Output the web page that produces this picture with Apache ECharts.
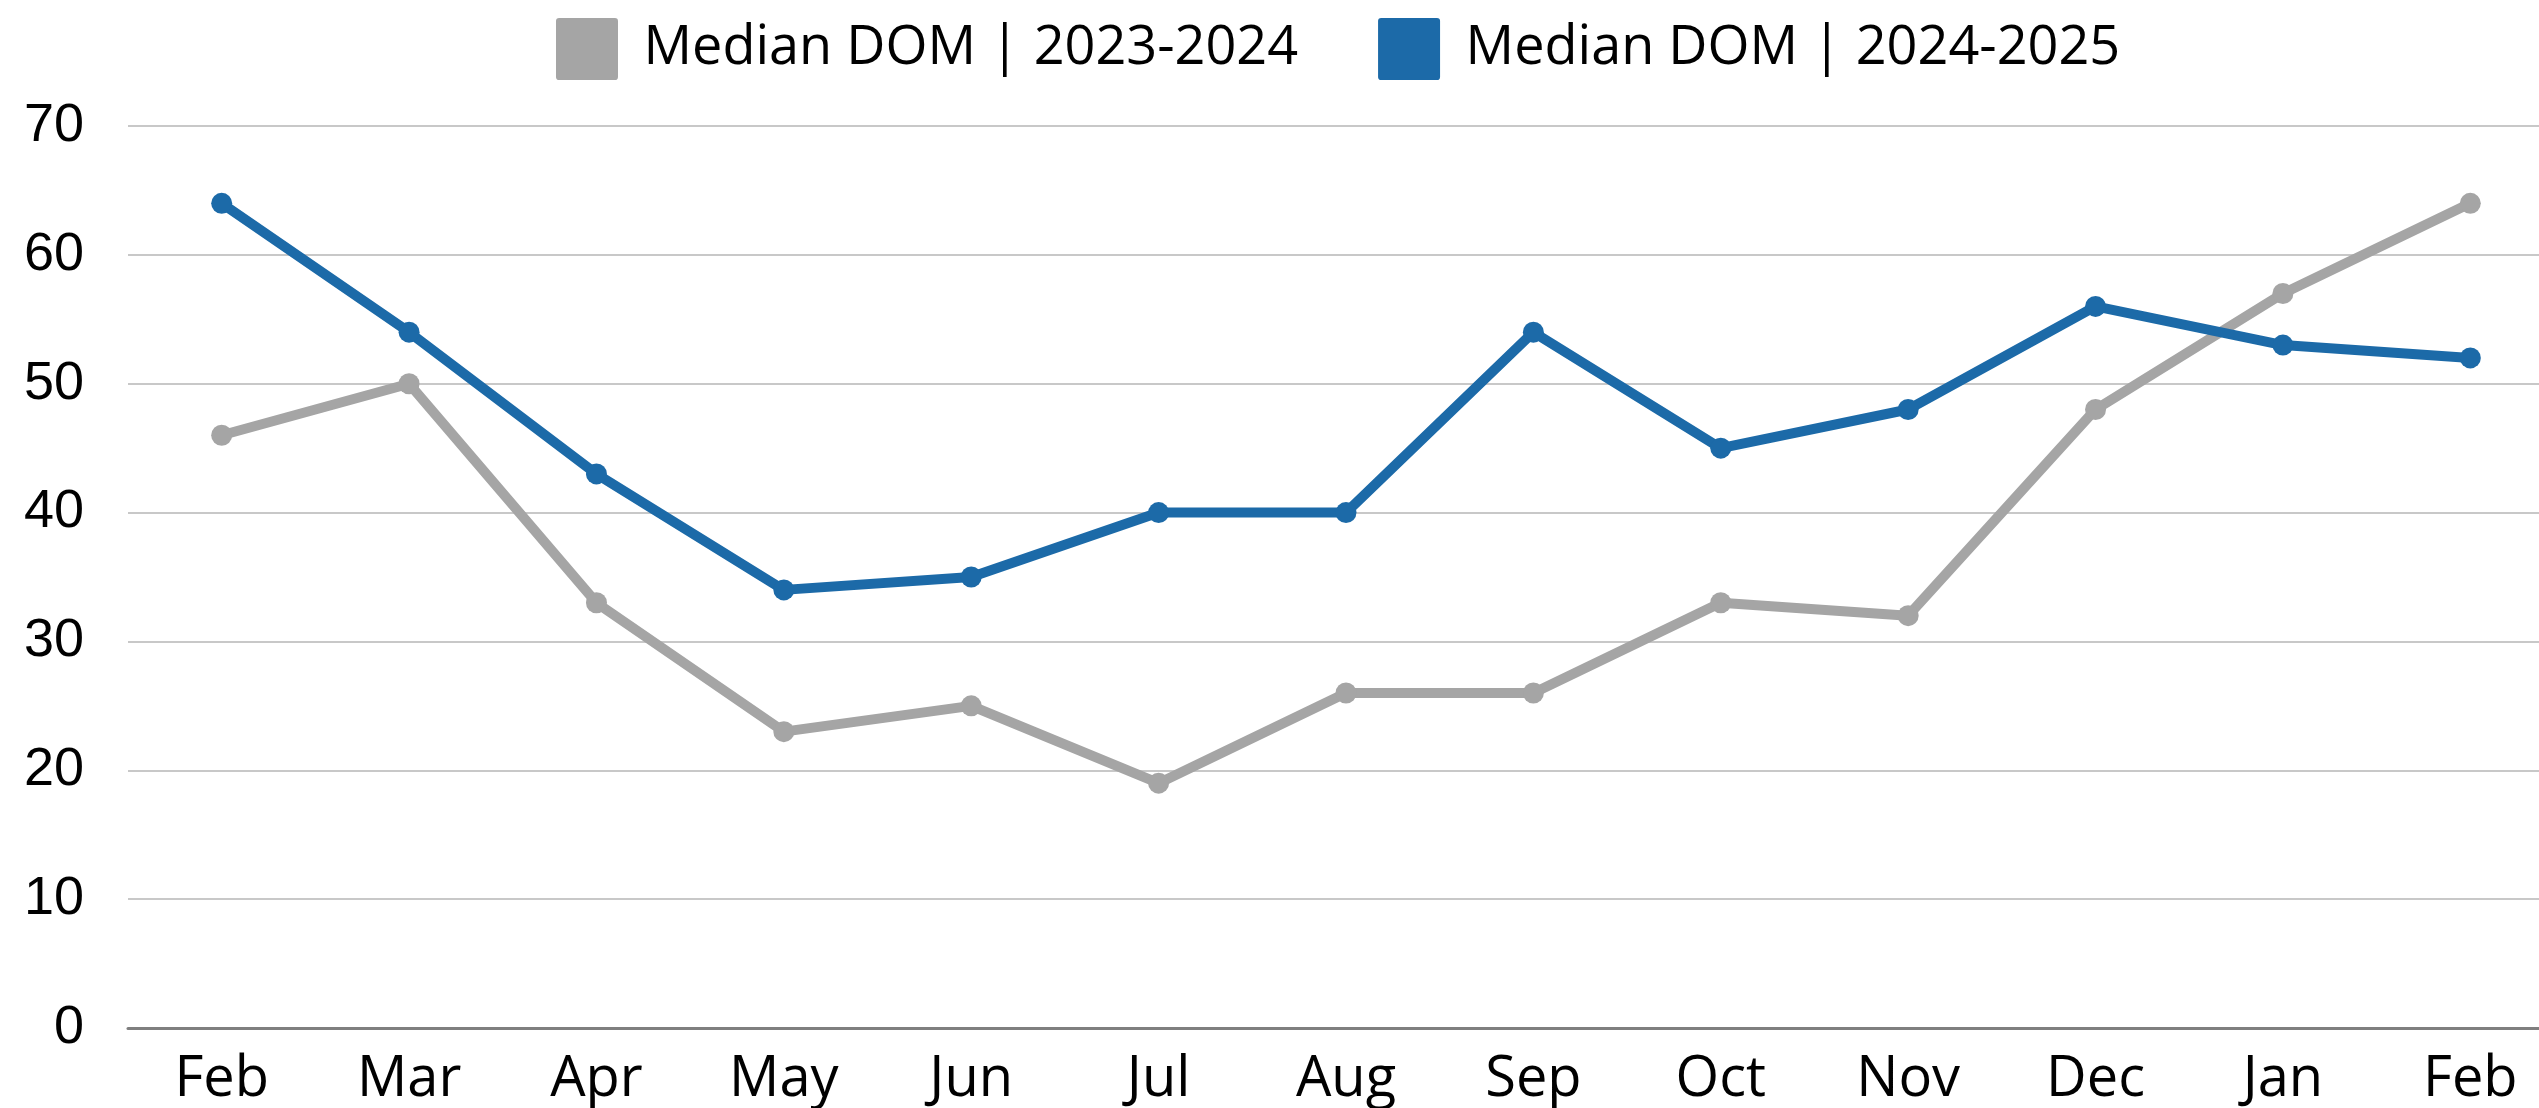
<!DOCTYPE html>
<html>
<head>
<meta charset="utf-8">
<script src="https://cdn.jsdelivr.net/npm/echarts@6/dist/echarts.min.js"></script>
<style>
  html, body { margin: 0; padding: 0; background: #fff; }
  #main { width: 2539px; height: 1108px; }
</style>
</head>
<body>
<div id="main"></div>
<script>
// month labels along the bottom
const months = ['Feb', 'Mar', 'Apr', 'May', 'Jun', 'Jul', 'Aug', 'Sep', 'Oct', 'Nov', 'Dec', 'Jan', 'Feb'];

// median days on market
const dom2324 = [46, 50, 33, 23, 25, 19, 26, 26, 33, 32, 48, 57, 64];
const dom2425 = [64, 54, 43, 34, 35, 40, 40, 54, 45, 48, 56, 53, 52];

const seriesNames = ['Median DOM | 2023-2024', 'Median DOM | 2024-2025'];
const colors = ['#a5a5a5', '#1c6aa8'];

const labelFont = '"Open Sans", "Noto Sans", sans-serif';
// square with only slightly rounded corners
const squareIcon = 'path://M1,0 H19 Q20,0 20,1 V19 Q20,20 19,20 H1 Q0,20 0,19 V1 Q0,0 1,0 Z';

function lineSeries(name, data, color, z) {
  return {
    name: name,
    type: 'line',
    data: data,
    symbol: 'circle',
    symbolSize: 21,
    z: z,
    itemStyle: { color: color },
    lineStyle: { color: color, width: 10 },
    emphasis: { disabled: true }
  };
}

const myChart = echarts.init(document.getElementById('main'));

const option = {
  animation: false,
  color: colors,
  legend: {
    top: 13,
    left: 551,
    itemWidth: 63,
    itemHeight: 62,
    itemGap: 80,
    icon: squareIcon,
    textStyle: {
      fontFamily: labelFont,
      fontSize: 54,
      color: '#000',
      padding: [0, 0, 0, 20]
    },
    data: seriesNames
  },
  // plot runs past the right edge, as in the cropped original
  grid: {
    left: 128,
    width: 2436,
    top: 126,
    bottom: 80,
    outerBoundsMode: 'none'
  },
  xAxis: {
    type: 'category',
    data: months,
    boundaryGap: true,
    axisLine: { lineStyle: { color: '#7f7f7f', width: 3 } },
    axisTick: { show: false },
    axisLabel: {
      interval: 0,
      margin: 24,
      fontFamily: labelFont,
      fontSize: 56,
      color: '#000'
    },
    splitLine: { show: false }
  },
  yAxis: {
    type: 'value',
    min: 0,
    max: 70,
    interval: 10,
    axisLine: { show: false },
    axisTick: { show: false },
    axisLabel: {
      margin: 44,
      fontFamily: '"Liberation Sans", Arial, sans-serif',
      fontSize: 54,
      color: '#000'
    },
    splitLine: { lineStyle: { color: '#c8c8c8', width: 2 } }
  },
  series: [
    lineSeries(seriesNames[0], dom2324, colors[0], 2),
    lineSeries(seriesNames[1], dom2425, colors[1], 3)
  ]
};

myChart.setOption(option);
</script>
</body>
</html>
